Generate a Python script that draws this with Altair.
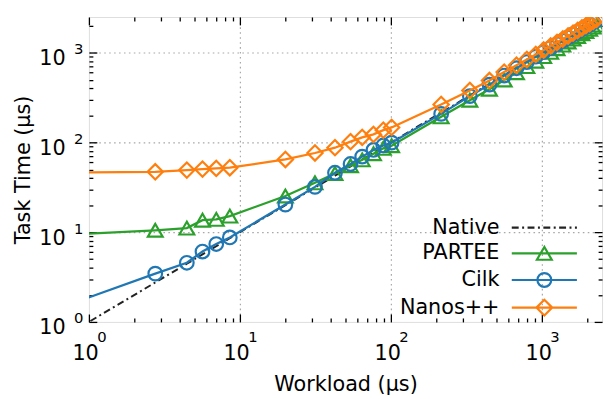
import altair as alt
import pandas as pd

SERIES = ["Native", "PARTEE", "Cilk", "Nanos++"]
COLORS = ["#222222", "#2ca02c", "#1f77b4", "#ff7f0e"]

WORKLOAD = [0.55, 2.75, 4.45, 5.65, 6.97, 8.57,
            20.0, 31.4, 42.6, 54.0, 64.5, 76.6, 89.0, 101.0,
            215, 333, 449, 562, 678, 794, 910, 1026, 1142, 1258, 1374,
            1490, 1606, 1722, 1838, 1954, 2070, 2186, 2302]
NATIVE = [0.55, 2.75, 4.45, 5.65, 6.97, 8.57,
          20.0, 31.4, 42.6, 54.0, 64.5, 76.6, 89.0, 101.0,
          215, 333, 449, 562, 678, 794, 910, 1026, 1142, 1258, 1374,
          1490, 1606, 1722, 1838, 1954, 2070, 2186, 2302]
PARTEE = [9.2, 10.5, 11.1, 13.6, 13.9, 15.1,
          25.3, 35.5, 45.0, 55.0, 64.0, 75.0, 86.0, 92.0,
          193, 296, 392, 497, 598, 700, 805, 905, 1010, 1110, 1215,
          1315, 1420, 1520, 1625, 1725, 1830, 1930, 2030]
CILK = [1.31, 3.45, 4.56, 6.08, 7.38, 8.74,
        20.3, 32.0, 46.0, 57.5, 69.5, 82.5, 92.5, 99.5,
        208, 328, 441, 556, 671, 786, 902, 1017, 1133, 1248, 1364,
        1479, 1595, 1710, 1826, 1941, 2057, 2172, 2288]
NANOS = [45.9, 47.1, 49.2, 50.5, 51.4, 52.3,
         64.6, 76.3, 87.4, 102.0, 114.0, 123.0, 137.0, 147.0,
         265, 380, 490, 608, 725, 840, 957, 1072, 1190, 1305, 1420,
         1537, 1652, 1770, 1885, 2000, 2117, 2232, 2350]

TICK_VALUES = [1, 10, 100, 1000]
TICK_BASE = "10"
TICK_EXPONENTS = ["0", "1", "2", "3"]
X_TITLE = "Workload (µs)"
Y_TITLE = "Task Time (µs)"

rows = []
for name, ys in zip(SERIES, [NATIVE, PARTEE, CILK, NANOS]):
    for i, (x, y) in enumerate(zip(WORKLOAD, ys)):
        rows.append({"series": name, "idx": i, "workload": x, "time": y})
df = pd.DataFrame(rows)

FONT = "DejaVu Sans"
FS = 21
FS_SUP = 15

base_expr = f"'{TICK_BASE}'"
exp_expr = " : ".join(f"datum.value == {v} ? '{e}'" for v, e in zip(TICK_VALUES, TICK_EXPONENTS)) + " : ''"
MINOR = [m * 10 ** d for d in range(4) for m in range(2, 10) if m * 10 ** d <= 2500]

xscale = alt.Scale(type="log", domain=[1, 2500], nice=False)
yscale = alt.Scale(type="log", domain=[1, 2500], nice=False)

COMMON = dict(domain=False, grid=False, tickColor="black", tickWidth=1.3,
              labelColor="black", labelFont=FONT, titleFont=FONT,
              titleFontSize=FS, titleColor="black", titleFontWeight="normal")


def ax(orient, kind, title=None):
    if kind == "grid":
        return alt.Axis(orient=orient, values=[10, 100, 1000], ticks=False, labels=False,
                        domain=False, grid=True, gridColor="#a8a8a8", gridDash=[1.6, 3.4],
                        gridWidth=1.2, title=None)
    if kind == "major":
        if orient == "bottom":
            return alt.Axis(orient=orient, **COMMON, values=TICK_VALUES, tickSize=8, offset=-8,
                            labelExpr=base_expr, labelFontSize=FS, labelAlign="right",
                            labelOffset=9.5, labelBaseline="alphabetic", labelPadding=38,
                            labelFlush=False, labelOverlap=False, labelBound=False,
                            title=title, titleBaseline="alphabetic", titleY=77)
        if orient == "left":
            return alt.Axis(orient=orient, **COMMON, values=TICK_VALUES, tickSize=8, offset=-8,
                            labelExpr=base_expr, labelFontSize=FS, labelAlign="right",
                            labelOffset=12, labelBaseline="alphabetic", labelPadding=24,
                            labelFlush=False, labelOverlap=False, labelBound=False,
                            title=title, titleBaseline="alphabetic", titleX=-68.5)
        return alt.Axis(orient=orient, **COMMON, values=TICK_VALUES, tickSize=8, offset=-8,
                        labels=False, title=None)
    if kind == "sup":
        if orient == "bottom":
            return alt.Axis(orient=orient, **COMMON, values=TICK_VALUES, ticks=False, tickSize=8,
                            offset=-8, labelExpr=exp_expr, labelFontSize=FS_SUP,
                            labelAlign="left", labelOffset=8, labelBaseline="alphabetic",
                            labelPadding=28, labelFlush=False, labelOverlap=False,
                            labelBound=False, title=None)
        return alt.Axis(orient=orient, **COMMON, values=TICK_VALUES, ticks=False, tickSize=8,
                        offset=-8, labelExpr=exp_expr, labelFontSize=FS_SUP,
                        labelAlign="right", labelOffset=1, labelBaseline="alphabetic",
                        labelPadding=14, labelFlush=False, labelOverlap=False,
                        labelBound=False, title=None)
    return alt.Axis(orient=orient, **COMMON, values=MINOR, tickSize=4, offset=-4,
                    labels=False, title=None)


def layer(name, kind, color, axx=None, axy=None):
    base = alt.Chart(df).transform_filter(alt.datum.series == name)
    if kind == "line":
        if name == "Native":
            m = base.mark_line(color=color, strokeWidth=2, strokeDash=[7, 3.5, 2, 3.5], clip=True)
        else:
            m = base.mark_line(color=color, strokeWidth=2.3, clip=True)
    else:
        shape = {"PARTEE": "triangle-up", "Cilk": "circle", "Nanos++": "diamond"}[name]
        size = {"PARTEE": 225, "Cilk": 190, "Nanos++": 240}[name]
        m = base.mark_point(shape=shape, size=size, filled=False, color=color,
                            strokeWidth=2.2, opacity=1, clip=True)
    return m.encode(
        x=alt.X("workload:Q", scale=xscale, axis=axx),
        y=alt.Y("time:Q", scale=yscale, axis=axy),
        order=alt.Order("idx:Q"),
    )


# legend symbols: line segment plus marker, in symbol units (1 unit = 8px),
# shifted right so that the labels end up on their left
D = 7.0
HALF = 4.125


def f(v):
    return f"{v:.3f}"


def dashdot_path():
    pattern = [(0.875, True), (0.4375, False), (0.25, True), (0.4375, False)]
    parts, x, k = [], -HALF, 0
    while x < HALF:
        length, on = pattern[k % 4]
        end = min(x + length, HALF)
        if on:
            parts.append(f"M{f(x + D)},0H{f(end + D)}")
        x = end
        k += 1
    return "".join(parts)


LINE = f"M{f(D - HALF)},0H{f(D + HALF)}"
PATHS = [
    dashdot_path(),
    LINE + f"M{f(D)},-0.81L{f(D - 0.94)},0.81L{f(D + 0.94)},0.81Z",
    LINE + f"M{f(D + 0.875)},0A0.875,0.875,0,1,1,{f(D - 0.875)},0A0.875,0.875,0,1,1,{f(D + 0.875)},0Z",
    LINE + f"M{f(D - 1)},0L{f(D)},-1L{f(D + 1)},0L{f(D)},1Z",
]

leg = alt.Legend(title=None, orient="none", legendX=395, legendY=203, labelFont=FONT,
                 labelFontSize=FS, labelColor="black", labelAlign="right", labelOffset=0,
                 symbolSize=256, symbolStrokeWidth=2.2, symbolOpacity=1, rowPadding=4,
                 padding=0, symbolFillColor="transparent")

legend_layer = alt.Chart(pd.DataFrame({"series": SERIES})).mark_point(
    filled=False, opacity=0, strokeWidth=2.2
).encode(
    color=alt.Color("series:N", scale=alt.Scale(domain=SERIES, range=COLORS), legend=leg, sort=SERIES),
    shape=alt.Shape("series:N", scale=alt.Scale(domain=SERIES, range=PATHS), legend=leg, sort=SERIES),
)

layers = [
    layer("Native", "line", COLORS[0], ax("bottom", "grid"), ax("left", "grid")),
    layer("PARTEE", "line", COLORS[1], ax("bottom", "major", X_TITLE), ax("left", "major", Y_TITLE)),
    layer("PARTEE", "point", COLORS[1], ax("top", "major"), ax("right", "major")),
    layer("Cilk", "line", COLORS[2], ax("bottom", "minor"), ax("left", "minor")),
    layer("Cilk", "point", COLORS[2], ax("top", "minor"), ax("right", "minor")),
    layer("Nanos++", "line", COLORS[3], ax("bottom", "sup"), ax("left", "sup")),
    layer("Nanos++", "point", COLORS[3]),
    legend_layer,
]

chart = alt.layer(*layers).resolve_axis(x="independent", y="independent").properties(
    width=520, height=309,
    autosize=alt.AutoSizeParams(type="none"),
    padding={"left": 82, "top": 6.5, "right": 5, "bottom": 76},
).configure_view(stroke="black", strokeWidth=1.8).configure(font=FONT)

chart.save("out.html", embed_options={"renderer": "svg", "actions": False})
